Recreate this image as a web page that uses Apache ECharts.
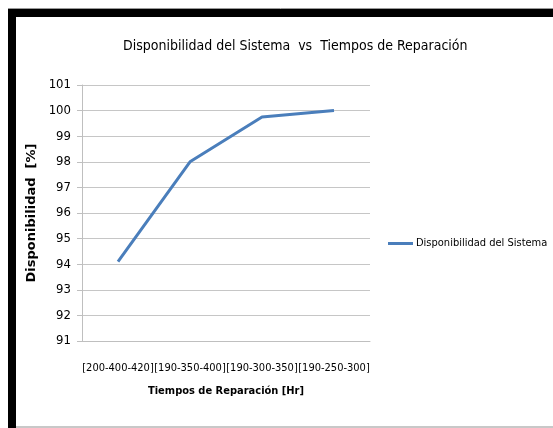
<!DOCTYPE html>
<html>
<head>
<meta charset="utf-8">
<script src="https://cdn.jsdelivr.net/npm/echarts@6/dist/echarts.min.js"></script>
<style>
  html, body { margin: 0; padding: 0; background: #fff; }
  #chart { width: 553px; height: 428px; }
</style>
</head>
<body>
<div id="chart"></div>
<script>
// valores
let categorias = ['[200-400-420]', '[190-350-400]', '[190-300-350]', '[190-250-300]'];
let disponibilidad = [94.1, 98.0, 99.75, 100.0];
let serieNombre = 'Disponibilidad del Sistema';
let yMin = 91, yMax = 101, yPaso = 1;

let fuente = "'Liberation Sans Narrow', 'DejaVu Sans Condensed', sans-serif";

let chartDom = document.getElementById('chart');
let myChart = echarts.init(chartDom);
let option;

option = {
  animation: false,
  backgroundColor: '#fff',
  title: {
    text: 'Disponibilidad del Sistema  vs  Tiempos de Reparación',
    left: 118,
    top: 34,
    textStyle: {
      fontFamily: fuente,
      fontSize: 14,
      fontWeight: 'normal',
      color: '#000'
    }
  },
  legend: {
    data: [serieNombre],
    left: 388,
    top: 238,
    padding: 0,
    icon: 'rect',
    itemWidth: 25,
    itemHeight: 3,
    itemGap: 4,
    textStyle: {
      fontFamily: fuente,
      fontSize: 11,
      color: '#000',
      padding: [0, 0, 0, -2]
    }
  },
  grid: {
    left: 82,
    right: 183,
    top: 85,
    bottom: 87,
    containLabel: false
  },
  xAxis: {
    type: 'category',
    boundaryGap: true,
    data: categorias,
    name: 'Tiempos de Reparación [Hr]',
    nameLocation: 'middle',
    nameGap: 45,
    nameTextStyle: {
      fontFamily: fuente,
      fontSize: 11,
      fontWeight: 'bold',
      color: '#000'
    },
    axisLine: { lineStyle: { color: '#bfbfbf', width: 1 } },
    axisTick: { show: false },
    axisLabel: {
      interval: 0,
      margin: 22,
      fontFamily: fuente,
      fontSize: 11,
      color: '#000'
    },
    splitLine: { show: false }
  },
  yAxis: {
    type: 'value',
    min: yMin,
    max: yMax,
    interval: yPaso,
    name: 'Disponibilidad  [%]',
    nameLocation: 'middle',
    nameGap: 32,
    nameTextStyle: {
      fontFamily: "'DejaVu Sans', sans-serif",
      fontSize: 13,
      fontWeight: 'bold',
      color: '#000'
    },
    axisLine: { show: true, lineStyle: { color: '#bfbfbf', width: 1 } },
    axisTick: { show: true, inside: false, length: 5, lineStyle: { color: '#bfbfbf' } },
    axisLabel: {
      margin: 11,
      fontFamily: fuente,
      fontSize: 13,
      color: '#000'
    },
    splitLine: { show: true, lineStyle: { color: '#c6c6c6', width: 1 } }
  },
  series: [
    {
      name: serieNombre,
      type: 'line',
      data: disponibilidad,
      symbol: 'none',
      lineStyle: { color: '#4a7ebb', width: 3 },
      itemStyle: { color: '#4a7ebb' }
    }
  ],
  graphic: [
    // marco negro superior e izquierdo
    { type: 'rect', shape: { x: 8, y: 9, width: 545, height: 8 }, style: { fill: '#000' }, z: 100 },
    { type: 'rect', shape: { x: 8, y: 9, width: 8, height: 419 }, style: { fill: '#000' }, z: 100 },
    { type: 'line', shape: { x1: 8, y1: 8.5, x2: 553, y2: 8.5 }, style: { stroke: '#999', lineWidth: 1 }, z: 100 },
    { type: 'line', shape: { x1: 16, y1: 427, x2: 553, y2: 427 }, style: { stroke: '#c8c8c8', lineWidth: 2 }, z: 100 }
  ]
};

option && myChart.setOption(option);
</script>
</body>
</html>
